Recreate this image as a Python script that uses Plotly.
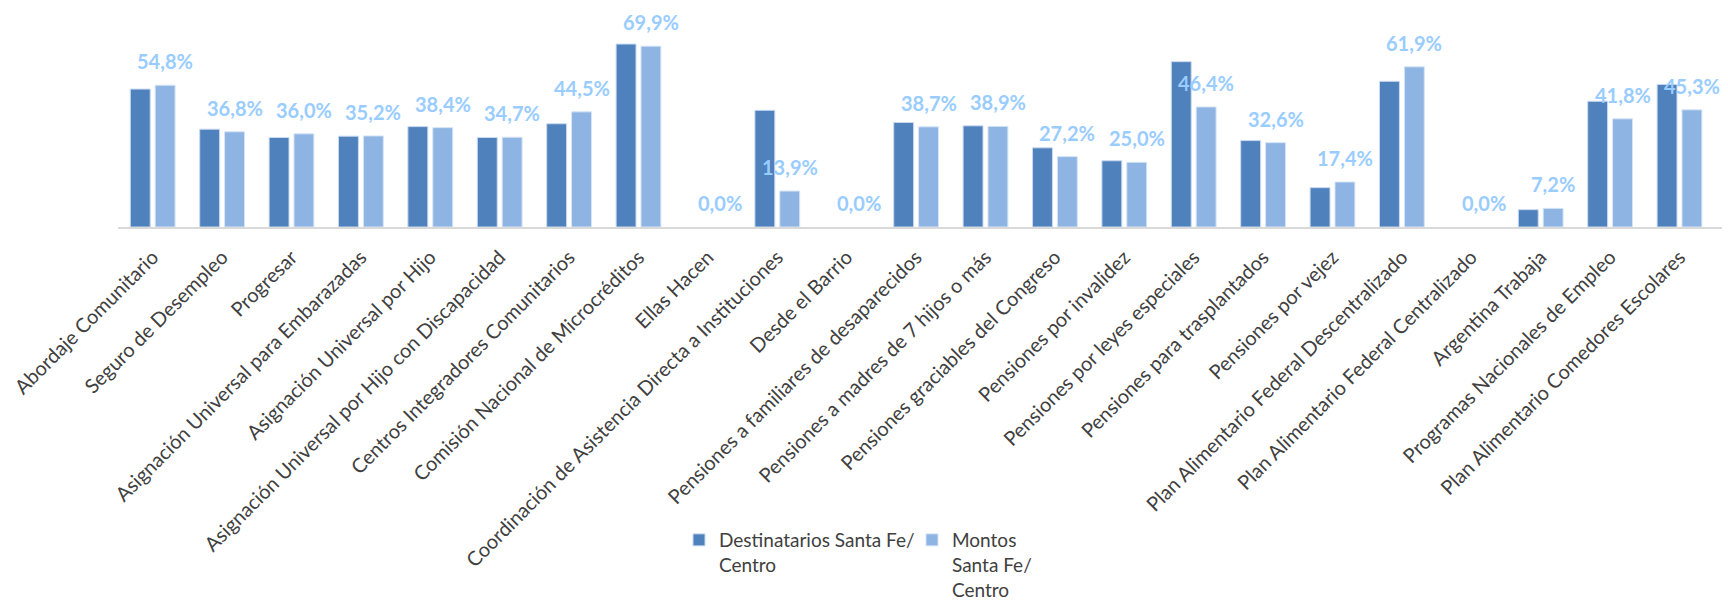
import plotly.graph_objects as go

categories = [
    "Abordaje Comunitario", "Seguro de Desempleo", "Progresar",
    "Asignación Universal para Embarazadas", "Asignación Universal por Hijo",
    "Asignación Universal por Hijo con Discapacidad", "Centros Integradores Comunitarios",
    "Comisión Nacional de Microcréditos", "Ellas Hacen",
    "Coordinación de Asistencia Directa a Instituciones", "Desde el Barrio",
    "Pensiones a familiares de desaparecidos", "Pensiones a madres de 7 hijos o más",
    "Pensiones graciables del Congreso", "Pensiones por invalidez",
    "Pensiones por leyes especiales", "Pensiones para trasplantados",
    "Pensiones por vejez", "Plan Alimentario Federal Descentralizado",
    "Plan Alimentario Federal Centralizado", "Argentina Trabaja",
    "Programas Nacionales de Empleo", "Plan Alimentario Comedores Escolares",
]

destinatarios = [53.3, 37.8, 34.6, 35.1, 38.8, 34.6, 39.9, 70.7, 0.0, 45.1, 0.0, 40.4,
                 39.1, 30.6, 25.6, 63.9, 33.4, 15.2, 56.3, 0.0, 6.7, 48.6, 55.1]
montos = [54.8, 36.8, 36.0, 35.2, 38.4, 34.7, 44.5, 69.9, 0.0, 13.9, 0.0, 38.7,
          38.9, 27.2, 25.0, 46.4, 32.6, 17.4, 61.9, 0.0, 7.2, 41.8, 45.3]

series_names = ["Destinatarios Santa Fe/<br>Centro", "Montos<br>Santa Fe/<br>Centro"]

FONT = "Lato"
W, H = 1728, 600
ML, MR, MT, MB = 118, 6, 19.5, 373.3
YMAX = 80

fig = go.Figure()
fig.add_trace(go.Bar(
    x=categories, y=destinatarios, name=series_names[0],
    marker=dict(color="#4F81BD",
                line=dict(color="#C9DAF0", width=[0 if v == 0 else 1 for v in destinatarios])),
    hoverinfo="x+y",
))
fig.add_trace(go.Bar(
    x=categories, y=montos, name=series_names[1],
    marker=dict(color="#8EB4E3",
                line=dict(color="#D6E4F5", width=[0 if v == 0 else 1 for v in montos])),
    hoverinfo="x+y",
))

for c, v in zip(categories, montos):
    fig.add_annotation(
        x=c, y=v, xref="x", yref="y", xshift=12.5, yshift=24,
        text=f"{v:.1f}%".replace(".", ","), showarrow=False,
        xanchor="center", yanchor="middle",
        font=dict(family=FONT, size=20, color="#99CCFF", weight="bold"),
    )

plot_h = H - MT - MB
legend_top_px = 521
legend_left_px = 679
fig.update_layout(
    width=W, height=H,
    margin=dict(l=ML, r=MR, t=MT, b=MB, pad=0, autoexpand=False),
    paper_bgcolor="white", plot_bgcolor="white",
    barmode="group", bargap=0.283, bargroupgap=0.2,
    font=dict(family=FONT, size=20, color="#404040"),
    showlegend=True,
    legend=dict(
        orientation="h", x=(legend_left_px - ML) / (W - ML - MR), xanchor="left",
        y=-(legend_top_px - (H - MB)) / plot_h, yanchor="top",
        valign="top", font=dict(family=FONT, size=19, color="#404040"),
        bgcolor="rgba(0,0,0,0)", itemwidth=30, entrywidth=188,
    ),
    xaxis=dict(
        tickangle=-45, automargin=False, showline=True, linecolor="#D9D9D9",
        linewidth=1.5, ticks="", showgrid=False, ticklabelstandoff=9,
        tickfont=dict(family=FONT, size=20, color="#404040"),
    ),
    yaxis=dict(
        range=[0, YMAX], visible=False, showgrid=False, zeroline=False,
    ),
)

fig.write_html(
    "out.html",
    config={"displayModeBar": False},
    post_script="document.body.style.margin='0';document.body.style.overflow='hidden';",
)
